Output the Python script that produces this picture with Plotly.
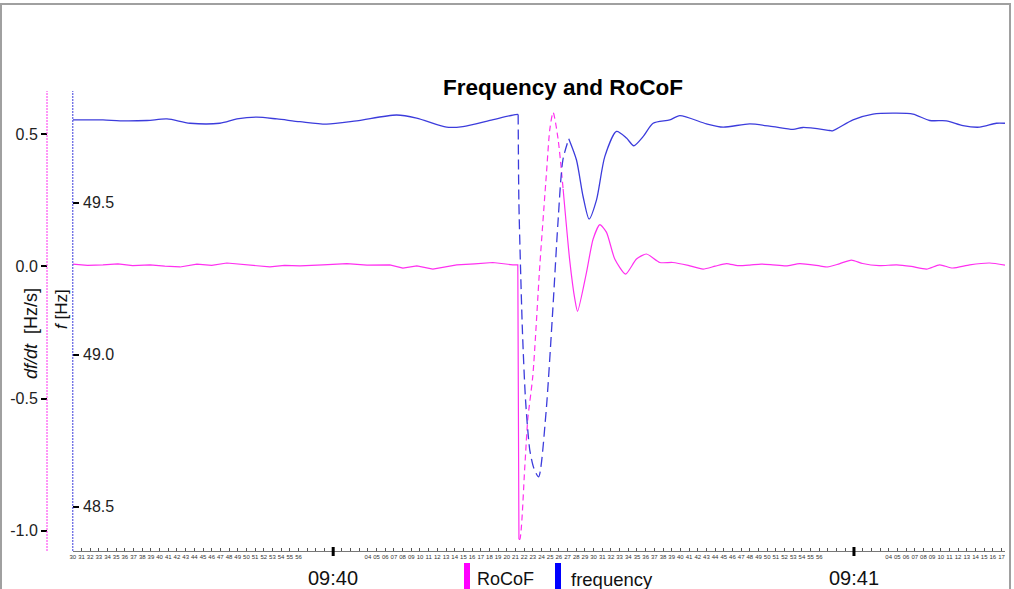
import plotly.graph_objects as go

# ---------------- data (seconds after 09:39:30) ----------------
# frequency [Hz]
freq_pre_t = [0.0, 3.48, 5.44, 8.55, 10.85, 13.50, 16.95, 18.91, 21.21, 23.52, 26.17, 29.24,
              32.70, 37.30, 39.61, 43.07, 44.94, 48.05, 50.70, 51.31]
freq_pre = [49.772, 49.772, 49.769, 49.770, 49.775, 49.761, 49.761, 49.775, 49.781, 49.775, 49.766, 49.758,
            49.769, 49.788, 49.778, 49.748, 49.750, 49.770, 49.788, 49.790]
freq_trans_t = [51.31, 51.39, 51.58, 51.81, 52.16, 52.65, 53.11, 53.67, 54.50, 55.30, 55.88, 56.46, 57.14]
freq_trans = [49.790, 49.509, 49.289, 49.071, 48.851, 48.686, 48.627, 48.598, 48.802, 49.147, 49.427, 49.640, 49.710]
freq_post_t = [57.14, 58.03, 58.79, 59.48, 60.34, 61.29, 62.64, 63.79, 64.63, 65.70, 66.86, 68.78, 69.93,
               73.00, 74.92, 77.99, 80.67, 82.98, 84.13, 87.20, 87.53, 89.89, 92.19, 94.89, 96.80, 98.73,
               100.65, 102.56, 104.48, 106.40, 107.40]
freq_post = [49.710, 49.640, 49.520, 49.446, 49.509, 49.651, 49.734, 49.712, 49.687, 49.717, 49.761, 49.772, 49.786,
             49.759, 49.748, 49.759, 49.750, 49.741, 49.747, 49.737, 49.736, 49.772, 49.791, 49.794, 49.791, 49.770,
             49.769, 49.753, 49.748, 49.761, 49.761]

# RoCoF [Hz/s]
rocof_pre_t = [0.0, 1.7, 3.48, 5.2, 6.9, 8.89, 10.6, 12.35, 14.30, 16.0, 17.75, 20.06, 21.4, 22.71, 24.4, 26.17,
               28.81, 30.2, 31.58, 33.9, 36.53, 38.03, 39.64, 41.48, 42.9, 44.24, 46.3, 48.39, 50.70, 51.27, 51.40]
rocof_pre = [0.009, 0.004, 0.006, 0.010, 0.003, 0.006, 0.001, -0.002, 0.009, 0.004, 0.013, 0.006, 0.002, -0.002,
             0.004, 0.002, 0.006, 0.009, 0.011, 0.005, 0.006, -0.006, 0.002, -0.010, -0.001, 0.006, 0.010, 0.015,
             0.006, 0.006, -1.033]
rocof_trans_t = [51.40, 51.50, 52.08, 52.42, 53.00, 53.80, 54.58, 54.96, 55.34, 55.91, 56.49]
rocof_trans = [-1.033, -1.033, -0.756, -0.578, -0.414, 0.001, 0.357, 0.520, 0.583, 0.482, 0.293]
rocof_post_t = [56.49, 57.26, 57.84, 58.15, 59.18, 59.94, 60.72, 61.49, 62.44, 63.68, 64.94, 66.09, 67.63,
                69.12, 70.9, 72.61, 74.0, 75.31, 76.6, 77.99, 79.3, 80.64, 82.2, 83.75, 86.05, 86.97, 88.3,
                89.70, 91.00, 92.9, 94.92, 96.6, 98.37, 99.87, 101.37, 103.33, 105.63, 107.40]
rocof_post = [0.293, 0.020, -0.124, -0.170, -0.023, 0.103, 0.158, 0.129, 0.028, -0.029, 0.028, 0.047, 0.015,
              0.015, 0.004, -0.010, 0.001, 0.011, 0.003, 0.005, 0.009, 0.006, 0.002, 0.011, 0.002, -0.002, 0.010,
              0.024, 0.011, 0.003, 0.006, 0.000, -0.010, 0.006, -0.006, 0.006, 0.013, 0.005]

rocof_ticks = [-1.0, -0.5, 0.0, 0.5]
freq_ticks = [48.5, 49.0, 49.5]
minute_ticks = [30, 90]
minute_labels = ["09:40", "09:41"]
start_second = 30
n_seconds = 108
hidden_seconds = [57, 58, 59, 0, 1, 2, 3]

# ---------------- styling ----------------
BLUE = "#3c3cdc"
MAG = "#ff30f0"
FONT = "Liberation Sans, Arial, sans-serif"

W, H = 1014, 589
ML, MR, MT, MB = 20, 9, 91, 38
PW = W - ML - MR
PH = H - MT - MB


def px(xp):
    return (xp - ML) / PW


def py(yp):
    return (H - MB - yp) / PH


fig = go.Figure()

fig.add_trace(go.Scatter(x=freq_pre_t, y=freq_pre, yaxis="y2", mode="lines",
                         line=dict(color=BLUE, width=1.3, shape="spline", smoothing=0.8), showlegend=False))
fig.add_trace(go.Scatter(x=freq_trans_t, y=freq_trans, yaxis="y2", mode="lines",
                         line=dict(color=BLUE, width=1.3, dash="10px,5px", shape="spline", smoothing=0.7),
                         showlegend=False))
fig.add_trace(go.Scatter(x=freq_post_t, y=freq_post, yaxis="y2", mode="lines",
                         line=dict(color=BLUE, width=1.3, shape="spline", smoothing=0.7), showlegend=False))

fig.add_trace(go.Scatter(x=rocof_pre_t, y=rocof_pre, yaxis="y", mode="lines",
                         line=dict(color=MAG, width=1.2), showlegend=False))
fig.add_trace(go.Scatter(x=rocof_trans_t, y=rocof_trans, yaxis="y", mode="lines",
                         line=dict(color=MAG, width=1.2, dash="6px,4px", shape="spline", smoothing=0.7),
                         showlegend=False))
fig.add_trace(go.Scatter(x=rocof_post_t, y=rocof_post, yaxis="y", mode="lines",
                         line=dict(color=MAG, width=1.2, shape="spline", smoothing=0.6), showlegend=False))

tickvals = list(range(n_seconds))
ticktext = []
for i in tickvals:
    s = (start_second + i) % 60
    ticktext.append("" if s in hidden_seconds else f"{s:02d}")

x0 = px(72.8)
fig.update_layout(
    width=W, height=H, autosize=False,
    margin=dict(l=ML, r=MR, t=MT, b=MB, pad=0),
    paper_bgcolor="white", plot_bgcolor="white",
    font=dict(family=FONT, color="#222"),
    showlegend=False,
    xaxis=dict(domain=[x0, 1], range=[0, 107.4], tickmode="array", tickvals=tickvals, ticktext=ticktext,
               tickangle=0, ticks="inside", ticklen=3, tickwidth=1, tickcolor="#555",
               tickfont=dict(size=6, color="#333", family=FONT), showline=True, linecolor="#777",
               linewidth=1, showgrid=False, zeroline=False, automargin=False),
    yaxis=dict(range=[-1.077, 0.664], anchor="free", position=px(47), side="left",
               tickmode="array", tickvals=rocof_ticks, ticktext=[f"{v:.1f}" for v in rocof_ticks],
               ticks="outside", ticklen=6, tickwidth=2, tickcolor="black",
               tickfont=dict(size=16, color="#222", family=FONT), showline=False, showgrid=False,
               zeroline=False, automargin=False),
    yaxis2=dict(range=[48.354, 49.867], overlaying="y", anchor="x", side="left",
                tickmode="array", tickvals=freq_ticks,
                ticks="inside", ticklen=6, tickwidth=2, tickcolor="black", showticklabels=False,
                showline=False, showgrid=False, zeroline=False, automargin=False),
)

shapes = []
# dotted axis lines
shapes.append(dict(type="line", xref="paper", yref="paper", x0=px(47), x1=px(47), y0=0, y1=1,
                   line=dict(color=MAG, width=1, dash="2px,1px")))
shapes.append(dict(type="line", xref="paper", yref="paper", x0=x0, x1=x0, y0=0, y1=1,
                   line=dict(color=BLUE, width=1, dash="2px,1px")))
# major minute ticks
for m in minute_ticks:
    shapes.append(dict(type="line", xref="x", yref="paper", x0=m, x1=m, y0=py(547), y1=py(556),
                       line=dict(color="black", width=3)))
# legend swatches
shapes.append(dict(type="rect", xref="paper", yref="paper", x0=px(464), x1=px(470), y0=py(563), y1=py(592),
                   fillcolor="#ff00ff", line=dict(width=0)))
shapes.append(dict(type="rect", xref="paper", yref="paper", x0=px(555), x1=px(561), y0=py(563), y1=py(592),
                   fillcolor="#0000ff", line=dict(width=0)))
# outer frame
shapes.append(dict(type="rect", xref="paper", yref="paper", x0=px(1), x1=px(1010), y0=py(595), y1=py(4),
                   line=dict(color="#a0a0a0", width=2), fillcolor="rgba(0,0,0,0)"))
fig.update_layout(shapes=shapes)

ann = []
ann.append(dict(text="<b>Frequency and RoCoF</b>", x=px(563), y=py(88), xref="paper", yref="paper",
                showarrow=False, font=dict(size=22.5, color="black", family=FONT), xanchor="center",
                yanchor="middle"))
for m, lab in zip(minute_ticks, minute_labels):
    ann.append(dict(text=lab, x=m, y=py(578), xref="x", yref="paper", showarrow=False,
                    font=dict(size=20, color="#111", family=FONT), xanchor="center", yanchor="middle"))
for v in freq_ticks:
    ann.append(dict(text=f"{v:.1f}", x=px(81), y=v, xref="paper", yref="y2", showarrow=False,
                    font=dict(size=16, color="#222", family=FONT), xanchor="left", yanchor="middle"))
ann.append(dict(text="<i>df/dt</i>  [Hz/s]", x=px(31), y=py(334), xref="paper", yref="paper",
                showarrow=False, textangle=-90, font=dict(size=18, color="#111", family=FONT),
                xanchor="center", yanchor="middle"))
ann.append(dict(text="<i>f</i> [Hz]", x=px(61), y=py(309), xref="paper", yref="paper",
                showarrow=False, textangle=-90, font=dict(size=17, color="#111", family=FONT),
                xanchor="center", yanchor="middle"))
ann.append(dict(text="RoCoF", x=px(475), y=py(579), xref="paper", yref="paper", showarrow=False,
                font=dict(size=18, color="#111", family=FONT), xanchor="left", yanchor="middle"))
ann.append(dict(text="frequency", x=px(569), y=py(579), xref="paper", yref="paper", showarrow=False,
                font=dict(size=18.5, color="#111", family=FONT), xanchor="left", yanchor="middle"))
fig.update_layout(annotations=ann)

fig.write_html("out.html")
